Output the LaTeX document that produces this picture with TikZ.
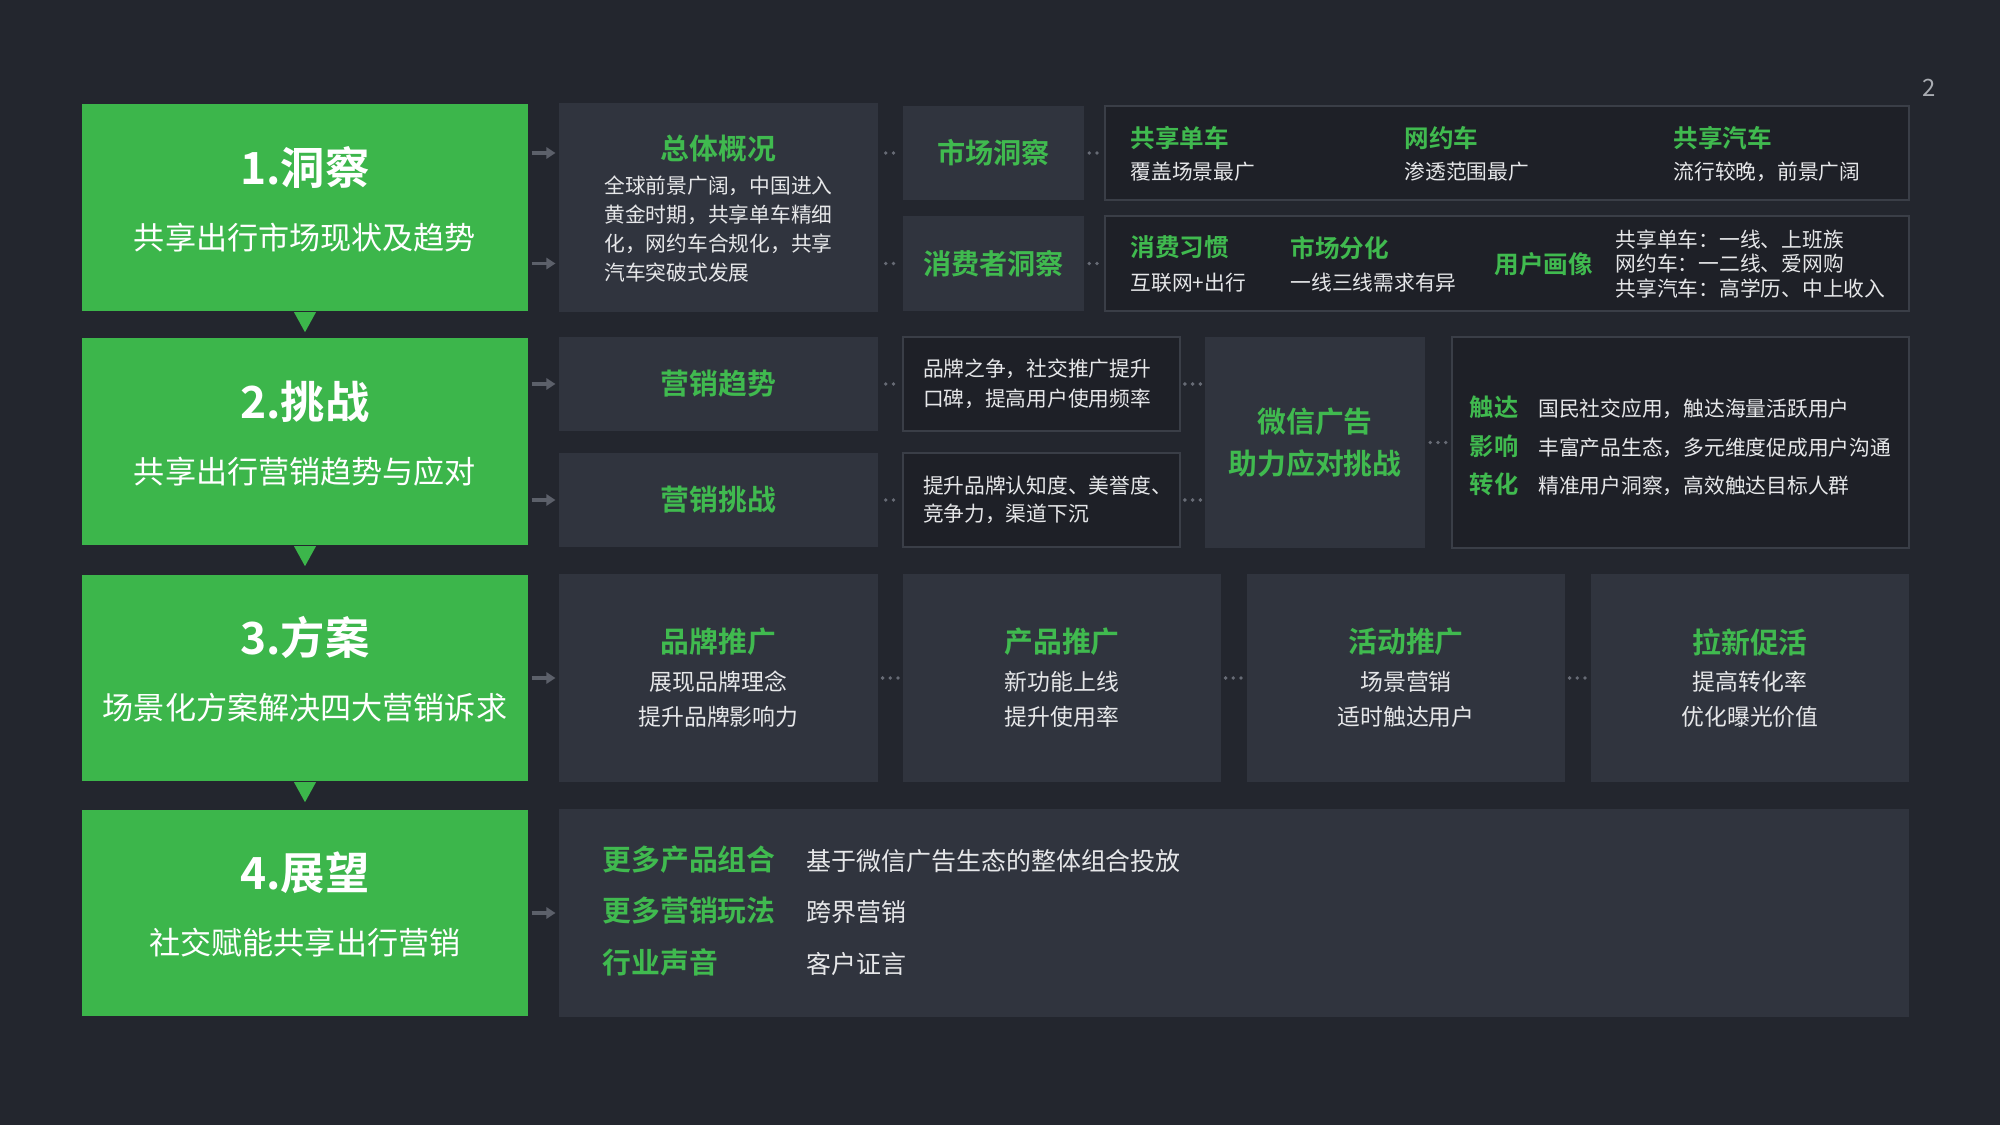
\documentclass[tikz,border=0pt]{standalone}
\usepackage{fontspec}
\setmainfont{Noto Sans CJK SC}[BoldFont={Noto Sans CJK SC Bold}]
\usetikzlibrary{arrows.meta,calc}

\definecolor{pagebg}{HTML}{23262E}
\definecolor{panelbg}{HTML}{30343E}
\definecolor{framebg}{HTML}{1E2027}
\definecolor{frameline}{HTML}{3A3E47}
\definecolor{brand}{HTML}{3CB64B}
\definecolor{brandtext}{HTML}{40BA4F}
\definecolor{lighttext}{HTML}{E6E7E9}
\definecolor{arrowgray}{HTML}{5C606A}
\definecolor{dotgray}{HTML}{676B75}
\definecolor{pagenum}{HTML}{A9ACB2}

\newcommand\fsz[2]{\fontsize{#1}{#2}\selectfont}
\newcommand\kw[1]{{\bfseries\color{brandtext}#1}}
\newcommand\stagetext[2]{{\bfseries\fsz{12.6}{18.5}#1}\\#2\rule[-5.6pt]{0pt}{0pt}}

\begin{document}
\begin{tikzpicture}[x=0.1mm, y=-0.1mm,
  every node/.style={inner sep=0pt, text=lighttext, font=\fsz{5.9}{8.25}},
  stage/.style={fill=brand, text=white, minimum width=44.6mm, minimum height=20.7mm, align=center, font=\fsz{8.85}{18.5}},
  panel/.style={fill=panelbg, align=center},
  headpanel/.style={panel, text=brandtext, font=\bfseries\fsz{8.2}{12}},
  frame/.style={draw=frameline, line width=0.6pt, fill=framebg},
  note/.style={frame, minimum width=27.7mm, minimum height=9.4mm, text width=23.7mm, inner xsep=2mm, align=left},
  arrow/.style={draw=arrowgray, line width=1.1pt, -{Triangle[length=2.6pt,width=3.2pt]}, shorten <=0.8pt, shorten >=0.8pt},
  dotlink/.style={draw=dotgray, line width=1.1pt, line cap=round, dash pattern=on 0pt off 2.2pt, shorten <=#1, shorten >=#1},
  dotlink/.default=1.1pt
]
  \useasboundingbox (0,0) rectangle (2000,1125);
  \fill[pagebg] (0,0) rectangle (2000,1125);
  \node[text=pagenum, font=\fsz{6.8}{8}] (pageno) at (1929,88) {2};

  % stages
  \node[stage] (insight)   at (305,208) {\stagetext{1.洞察}{共享出行市场现状及趋势}};
  \node[stage] (challenge) at (305,442) {\stagetext{2.挑战}{共享出行营销趋势与应对}};
  \node[stage] (solution)  at (305,678) {\stagetext{3.方案}{场景化方案解决四大营销诉求}};
  \node[stage] (outlook)   at (305,913) {\stagetext{4.展望}{社交赋能共享出行营销}};
  \foreach \s in {insight,challenge,solution}
    \fill[brand] ($(\s.south)+(-11,0)$) -- ++(22,0) -- ++(-11,20) -- cycle;

  % 1. insight
  \node[panel, minimum width=31.9mm, minimum height=20.9mm] (overview) at (718.5,207.5)
    {\kw{\fsz{8.2}{10}\rule{0pt}{9.5pt}总体概况}\\[2.3pt]
     \begin{tabular}{@{}l@{}}全球前景广阔，中国进入\\黄金时期，共享单车精细\\化，网约车合规化，共享\\汽车突破式发展\end{tabular}};
  \node[headpanel, font=\bfseries\fsz{8}{10}, minimum width=18.1mm, minimum height=9.4mm] (market) at (993.5,153) {市场洞察};
  \node[headpanel, font=\bfseries\fsz{8}{10}, minimum width=18.1mm, minimum height=9.5mm] (consumer) at (993.5,263.5) {消费者洞察};
  \node[frame, minimum width=80.4mm, minimum height=9.4mm] (modes) at (1507,153) {};
  \node[frame, minimum width=80.4mm, minimum height=9.5mm] (traits) at (1507,263.5) {};

  \node[anchor=west, align=left, font=\fsz{5.9}{9}] (bike) at (1130,154) {\kw{\fsz{7}{9}共享单车}\\覆盖场景最广};
  \node[anchor=west, align=left, font=\fsz{5.9}{9}] (ride) at (1404,154) {\kw{\fsz{7}{9}网约车}\\渗透范围最广};
  \node[anchor=west, align=left, font=\fsz{5.9}{9}] (car)  at (1673,154) {\kw{\fsz{7}{9}共享汽车}\\流行较晚，前景广阔};
  \node[anchor=west, align=left, font=\fsz{5.9}{9.5}] (habit) at (1130,264) {\kw{\fsz{7}{9.5}消费习惯}\\互联网+出行};
  \node[anchor=west, align=left, font=\fsz{5.9}{9.5}] (split) at (1290,264) {\kw{\fsz{7}{9.5}市场分化}\\一线三线需求有异};
  \node[anchor=west] (persona) at (1494,264) {\kw{\fsz{7}{9}用户画像}};
  \node[anchor=west, align=left, font=\fsz{5.9}{7}] (personas) at (1615,264)
    {共享单车：一线、上班族\\网约车：一二线、爱网购\\共享汽车：高学历、中上收入};

  \draw[arrow] (insight.east |- market) -- (overview.west |- market);
  \draw[arrow] (insight.east |- consumer) -- (overview.west |- consumer);
  \draw[dotlink=2pt] (overview.east |- market) -- (market.west);
  \draw[dotlink=2pt] (overview.east |- consumer) -- (consumer.west);
  \draw[dotlink=1.3pt] (market.east) -- (modes.west);
  \draw[dotlink=1.3pt] (consumer.east) -- (traits.west);

  % 2. challenge
  \node[headpanel, minimum width=31.9mm, minimum height=9.4mm] (trend) at (718.5,384) {营销趋势};
  \node[headpanel, minimum width=31.9mm, minimum height=9.4mm] (issue) at (718.5,500) {营销挑战};
  \node[note, font=\fsz{5.9}{8.5}] (trendnote) at (1041.5,384) {品牌之争，社交推广提升\\口碑，提高用户使用频率};
  \node[note, font=\fsz{5.9}{8}] (issuenote) at (1041.5,500) {提升品牌认知度、美誉度、\\竞争力，渠道下沉};
  \node[headpanel, minimum width=22mm, minimum height=21.1mm] (wechat) at (1315,442.5) {微信广告\\助力应对挑战};
  \node[frame, minimum width=45.7mm, minimum height=21.1mm, font=\fsz{5.9}{11}] (levers) at (1680.5,442.5)
    {\begin{tabular}{@{}l@{\hspace{5.7pt}}l@{}}
     \kw{\fsz{6.9}{11}\rule{0pt}{10.5pt}触达} & 国民社交应用，触达海量活跃用户\\
     \kw{\fsz{6.9}{11}影响} & 丰富产品生态，多元维度促成用户沟通\\
     \kw{\fsz{6.9}{11}转化} & 精准用户洞察，高效触达目标人群
     \end{tabular}};

  \draw[arrow] (challenge.east |- trend) -- (trend.west);
  \draw[arrow] (challenge.east |- issue) -- (issue.west);
  \draw[dotlink=2pt] (trend.east) -- (trendnote.west);
  \draw[dotlink=2pt] (issue.east) -- (issuenote.west);
  \draw[dotlink] (trendnote.east) -- (wechat.west |- trendnote);
  \draw[dotlink] (issuenote.east) -- (wechat.west |- issuenote);
  \draw[dotlink=1.3pt] (wechat.east) -- (levers.west);

  % 3. solution
  \node[panel, minimum width=31.9mm, minimum height=20.8mm, font=\fsz{6.5}{10}] (brandpush) at (718.5,678)
    {\kw{\fsz{8.2}{10}品牌推广}\\[0.7pt]展现品牌理念\\提升品牌影响力};
  \node[panel, minimum width=31.8mm, minimum height=20.8mm, font=\fsz{6.5}{10}] (productpush) at (1062,678)
    {\kw{\fsz{8.2}{10}产品推广}\\[0.7pt]新功能上线\\提升使用率};
  \node[panel, minimum width=31.8mm, minimum height=20.8mm, font=\fsz{6.5}{10}] (eventpush) at (1406,678)
    {\kw{\fsz{8.2}{10}活动推广}\\[0.7pt]场景营销\\适时触达用户};
  \node[panel, minimum width=31.8mm, minimum height=20.8mm, font=\fsz{6.5}{10}] (growth) at (1750,678)
    {\kw{\fsz{8.2}{10}拉新促活}\\[0.7pt]提高转化率\\优化曝光价值};

  \draw[arrow] (solution.east) -- (brandpush.west);
  \draw[dotlink] (brandpush.east) -- (productpush.west);
  \draw[dotlink] (productpush.east) -- (eventpush.west);
  \draw[dotlink] (eventpush.east) -- (growth.west);

  % 4. outlook
  \node[panel, minimum width=135mm, minimum height=20.8mm] (future) at (1234,913) {};
  \node[anchor=west, font=\fsz{7.1}{14.7}] (futurelist) at (602,911.5)
    {\begin{tabular}{@{}l@{\hspace{8.8pt}}l@{}}
     \kw{\fsz{8.2}{14.7}更多产品组合} & 基于微信广告生态的整体组合投放\\
     \kw{\fsz{8.2}{14.7}更多营销玩法} & 跨界营销\\
     \kw{\fsz{8.2}{14.7}行业声音} & 客户证言
     \end{tabular}};

  \draw[arrow] (outlook.east) -- (future.west);
\end{tikzpicture}
\end{document}
